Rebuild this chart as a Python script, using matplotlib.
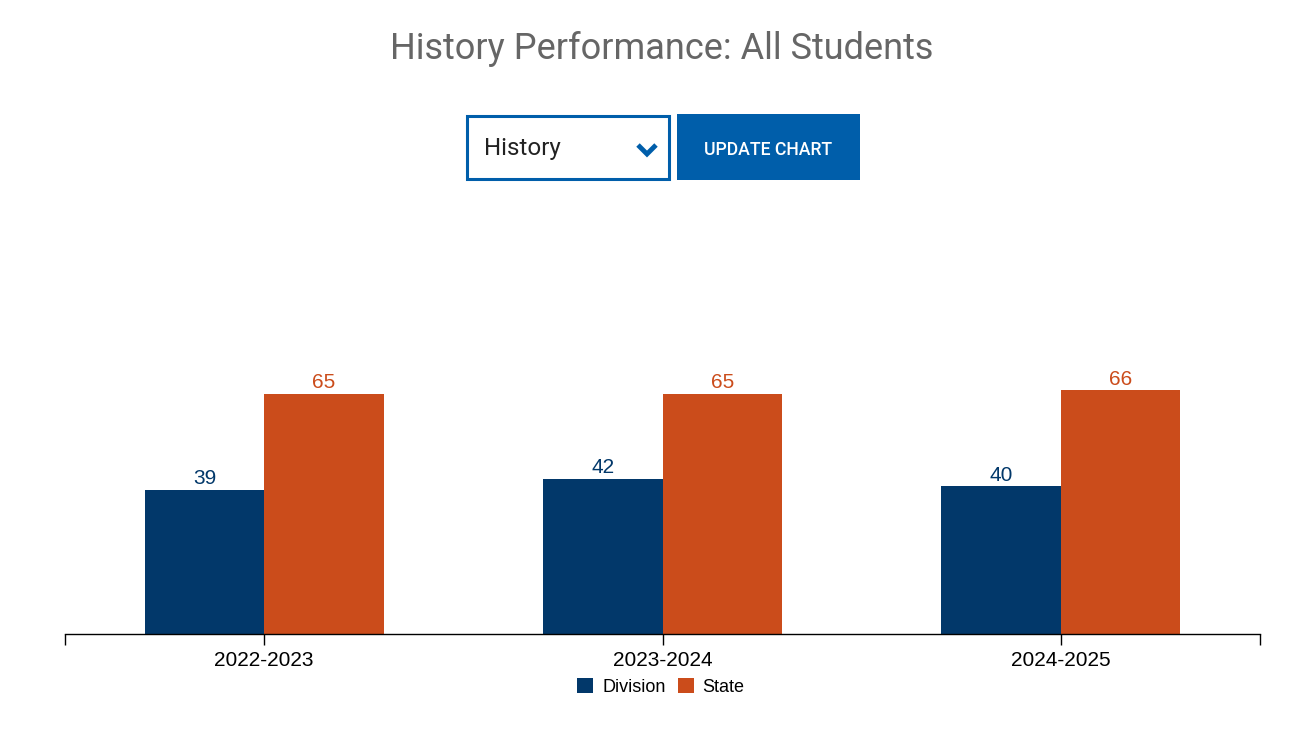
import numpy as np
import matplotlib.pyplot as plt
from matplotlib.patches import Rectangle
from matplotlib.lines import Line2D

years = ['2022-2023', '2023-2024', '2024-2025']
division = [39, 42, 40]
state = [65, 65, 66]
series_names = ['Division', 'State']

c_div = '#02386a'
c_state = '#cb4c1b'
c_blue = '#005eaa'

W, H = 1290, 729
fig = plt.figure(figsize=(W / 100, H / 100), dpi=100)


def fx(px):
    return px / W


def fy(py):
    return 1 - py / H


# axes: x from 65 to 1260 px, baseline at 634 px, value 100 at ~265 px
ax = fig.add_axes([fx(65), fy(634), fx(1260) - fx(65), fy(265) - fy(634)])
x = np.arange(len(years))
bw = 0.3
ax.bar(x - bw / 2, division, width=bw, color=c_div)
ax.bar(x + bw / 2, state, width=bw, color=c_state)
for xi, v in zip(x, division):
    ax.text(xi - bw / 2, v + 0.5, str(v), ha='center', va='bottom', color=c_div,
            fontsize=15, family='Liberation Sans')
for xi, v in zip(x, state):
    ax.text(xi + bw / 2, v + 0.5, str(v), ha='center', va='bottom', color=c_state,
            fontsize=15, family='Liberation Sans')

ax.set_xlim(-0.5, 2.5)
ax.set_ylim(0, 100)
ax.set_xticks([-0.5, 0, 1, 2, 2.5])
ax.set_xticklabels([''] + years + [''], fontsize=15, family='Liberation Sans')
ax.tick_params(axis='x', direction='out', length=8, width=1, color='black', pad=4)
ax.set_yticks([])
for s in ['top', 'right', 'left']:
    ax.spines[s].set_visible(False)
ax.spines['bottom'].set_linewidth(1)
ax.patch.set_alpha(0)

# title
fig.text(fx(662), fy(49), 'History Performance: All Students', ha='center', va='center',
         fontsize=26, color='#666666', family='Roboto')

# dropdown
fig.patches.append(Rectangle((fx(467), fy(179)), fx(669) - fx(467), fy(116) - fy(179),
                             transform=fig.transFigure, facecolor='white',
                             edgecolor=c_blue, linewidth=2.2))
fig.text(fx(484), fy(149), 'History', ha='left', va='center', fontsize=17.4,
         color='#222222', family='Roboto')
fig.lines.append(Line2D([fx(638), fx(647), fx(656)], [fy(145), fy(154), fy(145)],
                        transform=fig.transFigure, color=c_blue, linewidth=3.5,
                        solid_capstyle='butt', solid_joinstyle='miter'))

# button
fig.patches.append(Rectangle((fx(677), fy(180)), fx(860) - fx(677), fy(114) - fy(180),
                             transform=fig.transFigure, facecolor=c_blue,
                             edgecolor='none'))
fig.text(fx(768), fy(150), 'UPDATE CHART', ha='center', va='center', fontsize=12.7,
         color='white', family='Roboto', fontweight='medium')

# legend
for sq, tx, name, col in [(577, 602, series_names[0], c_div),
                          (678, 702, series_names[1], c_state)]:
    fig.patches.append(Rectangle((fx(sq), fy(693)), fx(16), 15 / H,
                                 transform=fig.transFigure, facecolor=col,
                                 edgecolor='none'))
    fig.text(fx(tx), fy(687), name, ha='left', va='center', fontsize=13,
             color='black', family='Liberation Sans')

fig.savefig('out.png', dpi=100, facecolor='white')
